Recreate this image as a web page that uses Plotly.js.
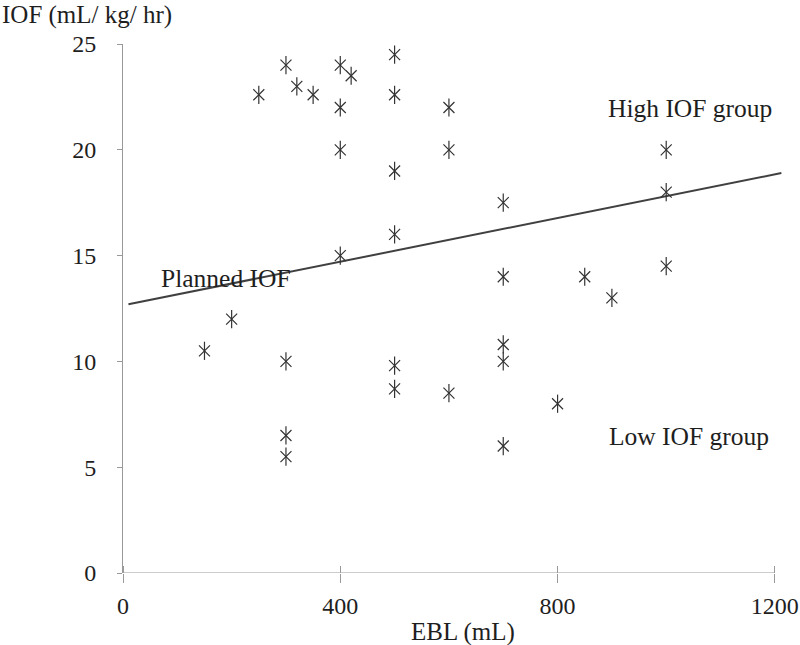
<!DOCTYPE html>
<html>
<head>
<meta charset="utf-8">
<script src="https://cdn.plot.ly/plotly-3.0.1.min.js"></script>
<style>html,body{margin:0;padding:0;background:#fff;}#chart{width:800px;height:645px;}</style>
</head>
<body>
<div id="chart"></div>
<script>
// EBL (mL) and IOF (mL/kg/hr) per patient
const ebl = [150, 200, 250, 300, 320, 350, 400, 420, 400, 400, 400, 500, 500, 500, 500, 500, 500,
             600, 600, 600, 700, 700, 700, 700, 700, 800, 850, 900, 1000, 1000, 1000, 300, 300, 300];
const iof = [10.5, 12, 22.6, 24, 23, 22.6, 24, 23.5, 22, 20, 15, 24.5, 22.6, 19, 16, 9.8, 8.7,
             22, 20, 8.5, 17.5, 14, 10.8, 10, 6, 8, 14, 13, 20, 18, 14.5, 10, 6.5, 5.5];
// Planned IOF line
const plannedX = [10, 1212];
const plannedY = [12.7, 18.9];
const xTicks = [0, 400, 800, 1200];
const yTicks = [0, 5, 10, 15, 20, 25];

const serif = "'Liberation Serif', 'Times New Roman', serif";
const txt = '#1e1e1e';
const markerColor = '#333';

const traces = [
  {x: plannedX, y: plannedY, type: 'scatter', mode: 'lines',
   line: {color: '#404040', width: 2}, hoverinfo: 'skip'},
  {x: ebl, y: iof, type: 'scatter', mode: 'markers',
   marker: {symbol: 'x-thin-open', size: 11, color: markerColor, line: {color: markerColor, width: 1.2}}},
  {x: ebl, y: iof, type: 'scatter', mode: 'markers',
   marker: {symbol: 'line-ns-open', size: 13, color: markerColor, line: {color: markerColor, width: 1.2}}}
];

const layout = {
  width: 800, height: 645,
  margin: {l: 123, r: 17, t: 44, b: 72},
  paper_bgcolor: '#fff', plot_bgcolor: '#fff',
  showlegend: false,
  font: {family: serif, color: txt, size: 24},
  xaxis: {
    range: [0, 1215], tickvals: xTicks, ticktext: xTicks.map(String),
    showgrid: false, zeroline: false, showline: false,
    ticks: 'outside', ticklen: 9, tickwidth: 1, tickcolor: '#999',
    ticklabelstandoff: 2,
    minor: {tickvals: xTicks, ticks: 'inside', ticklen: 7, tickwidth: 1, tickcolor: '#999', showgrid: false},
    tickfont: {family: serif, size: 24, color: txt}
  },
  yaxis: {
    range: [0, 25], tickvals: yTicks, ticktext: yTicks.map(String),
    showgrid: false, zeroline: false, showline: true, linecolor: '#999', linewidth: 1,
    ticks: 'outside', ticklen: 5, tickwidth: 1, tickcolor: '#999',
    ticklabelstandoff: 16,
    tickfont: {family: serif, size: 24, color: txt}
  },
  shapes: [
    {type: 'line', xref: 'x', yref: 'y', x0: 0, x1: 1200, y0: 0, y1: 0,
     line: {color: '#999', width: 1}}
  ],
  annotations: [
    {text: 'IOF (mL/ kg/ hr)', xref: 'paper', yref: 'paper', x: -123/660, y: 1 + 29/529,
     xanchor: 'left', yanchor: 'middle', showarrow: false, font: {family: serif, size: 25, color: txt}},
    {text: 'EBL (mL)', xref: 'paper', yref: 'paper', x: (463-123)/660, y: -(632-573)/529,
     xanchor: 'center', yanchor: 'middle', showarrow: false, font: {family: serif, size: 25, color: txt}},
    {text: 'High IOF group', xref: 'x', yref: 'y', x: 1044, y: 21.97,
     xanchor: 'center', yanchor: 'middle', showarrow: false, font: {family: serif, size: 25.5, color: txt}},
    {text: 'Low IOF group', xref: 'x', yref: 'y', x: 1042, y: 6.43,
     xanchor: 'center', yanchor: 'middle', showarrow: false, font: {family: serif, size: 25.5, color: txt}},
    {text: 'Planned IOF', xref: 'x', yref: 'y', x: 190, y: 13.94,
     xanchor: 'center', yanchor: 'middle', showarrow: false, font: {family: serif, size: 25.5, color: txt}}
  ]
};

Plotly.newPlot('chart', traces, layout, {displayModeBar: false, staticPlot: true});
</script>
</body>
</html>
